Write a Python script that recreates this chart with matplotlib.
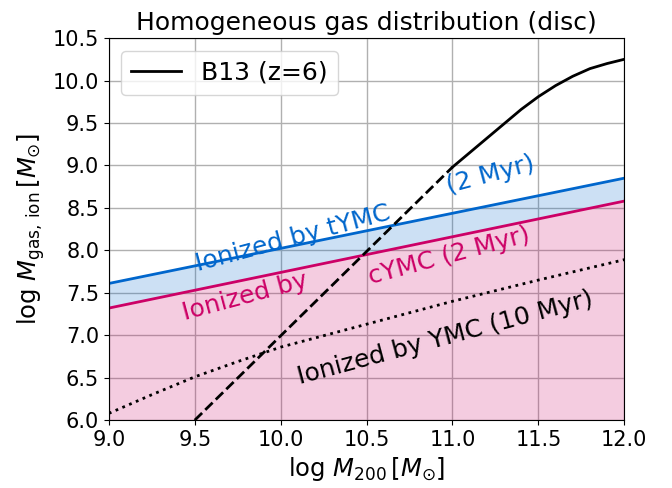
import numpy as np
import matplotlib
matplotlib.use("Agg")
import matplotlib.pyplot as plt

# halo mass grid (log M200)
m200_lines = [9.0, 12.0]
t_ymc = [7.61, 8.85]      # ionized by tYMC (2 Myr)
c_ymc = [7.32, 8.58]      # ionized by cYMC (2 Myr)

# ionized by YMC (10 Myr), dotted
m200_ymc = [9.0, 9.25, 9.5, 9.75, 10.0, 10.5, 11.0, 11.5, 12.0]
ymc_10 = [6.08, 6.30, 6.51, 6.69, 6.86, 7.13, 7.40, 7.65, 7.89]

# B13 (z=6): dashed extrapolation + solid part
m200_b13_dash = [9.5, 11.0]
b13_dash = [6.0, 8.98]
m200_b13 = [11.0, 11.1, 11.2, 11.3, 11.4, 11.5, 11.6, 11.7, 11.8, 11.9, 12.0]
b13 = [8.98, 9.15, 9.32, 9.49, 9.66, 9.81, 9.94, 10.05, 10.14, 10.20, 10.25]

blue = '#0066cc'
pink = '#cc0066'

fig = plt.figure(figsize=(6.72, 4.88), dpi=100)
ax = fig.add_axes([0.162, 0.139, 0.767, 0.783])

ax.fill_between(m200_lines, [6.0, 6.0], c_ymc, color=pink, alpha=0.2, lw=0)
ax.fill_between(m200_lines, c_ymc, t_ymc, color=blue, alpha=0.2, lw=0)
ax.plot(m200_lines, t_ymc, color=blue, lw=2)
ax.plot(m200_lines, c_ymc, color=pink, lw=2)
ax.plot(m200_ymc, ymc_10, color='k', ls=':', lw=2)
ax.plot(m200_b13_dash, b13_dash, color='k', ls='--', lw=2)
ax.plot(m200_b13, b13, color='k', lw=2, label='B13 (z=6)')

fs = 18
rot = 15
ax.text(10.07, 8.14, 'Ionized by tYMC', color=blue, fontsize=fs, rotation=rot,
        ha='center', va='center')
ax.text(11.22, 8.89, '(2 Myr)', color=blue, fontsize=fs, rotation=rot,
        ha='center', va='center')
ax.text(9.79, 7.45, 'Ionized by', color=pink, fontsize=fs, rotation=rot,
        ha='center', va='center')
ax.text(10.98, 7.93, 'cYMC (2 Myr)', color=pink, fontsize=fs, rotation=rot,
        ha='center', va='center')
ax.text(10.96, 6.97, 'Ionized by YMC (10 Myr)', color='k', fontsize=fs, rotation=rot,
        ha='center', va='center')

ax.set_xlim(9, 12)
ax.set_ylim(6, 10.5)
ax.set_xticks(np.arange(9, 12.01, 0.5))
ax.set_yticks(np.arange(6, 10.51, 0.5))
ax.tick_params(labelsize=15)
ax.grid(True, color='#b0b0b0', lw=1)
ax.set_axisbelow(True)

ax.set_xlabel(r'log $M_{200}\,[M_{\odot}]$', fontsize=17.5)
ax.set_ylabel(r'log $M_{\rm gas,\,ion}\,[M_{\odot}]$', fontsize=17.5)
ax.set_title('Homogeneous gas distribution (disc)', fontsize=18)
ax.legend(loc='upper left', fontsize=18)

fig.savefig('out.png', dpi=100)
